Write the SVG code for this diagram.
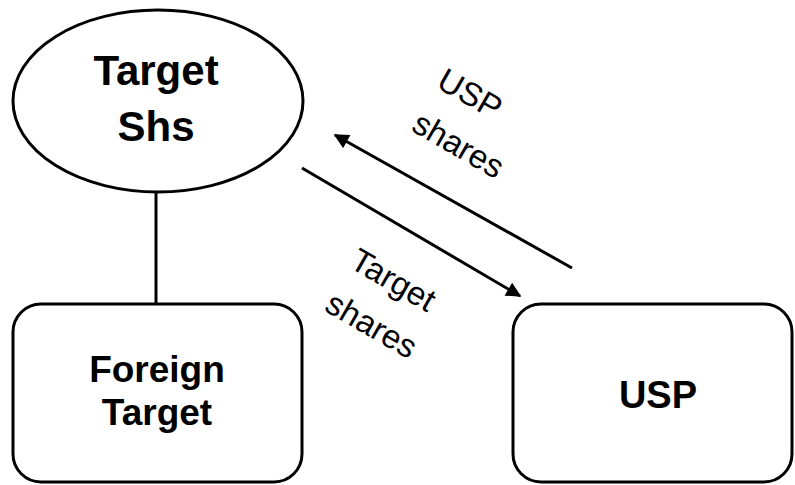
<svg xmlns="http://www.w3.org/2000/svg" width="795" height="485" viewBox="0 0 795 485">
<style>
.shape{fill:#fff;stroke:#000;stroke-width:3}
.lbl{font-family:"Liberation Sans",Arial,sans-serif;font-weight:bold;text-anchor:middle;fill:#000}
.edge{font-family:"Liberation Sans",Arial,sans-serif;font-size:33px;fill:#000}
.conn{stroke:#000;stroke-width:3;fill:none}
</style>
<defs>
<marker id="ah" viewBox="0 0 10 10" refX="9" refY="5" markerWidth="5.5" markerHeight="5" orient="auto" markerUnits="strokeWidth">
<path d="M0,0 L10,5 L0,10 z" fill="#000"/>
</marker>
</defs>
<g id="connectors">
<line class="conn" x1="156" y1="192" x2="156" y2="304"/>
<line class="conn" x1="572" y1="268" x2="335" y2="135" marker-end="url(#ah)"/>
<line class="conn" x1="302" y1="168" x2="520" y2="296" marker-end="url(#ah)"/>
<g transform="translate(410,130) rotate(30)">
<text class="edge" x="0" y="-50">USP</text>
<text class="edge" x="0" y="0">shares</text>
</g>
<g transform="translate(323,310) rotate(30)">
<text class="edge" x="0" y="-50">Target</text>
<text class="edge" x="0" y="0">shares</text>
</g>
</g>
<g id="target-shs">
<ellipse class="shape" cx="158" cy="101" rx="145" ry="91"/>
<text class="lbl" x="156" y="85" font-size="42">Target</text>
<text class="lbl" x="156" y="141" font-size="42">Shs</text>
</g>
<g id="foreign-target">
<rect class="shape" x="13" y="304" width="289" height="178" rx="28"/>
<text class="lbl" x="157" y="382" font-size="37">Foreign</text>
<text class="lbl" x="157" y="425" font-size="37">Target</text>
</g>
<g id="usp">
<rect class="shape" x="513" y="304" width="279" height="178" rx="28"/>
<text class="lbl" x="658" y="408" font-size="38">USP</text>
</g>
</svg>
